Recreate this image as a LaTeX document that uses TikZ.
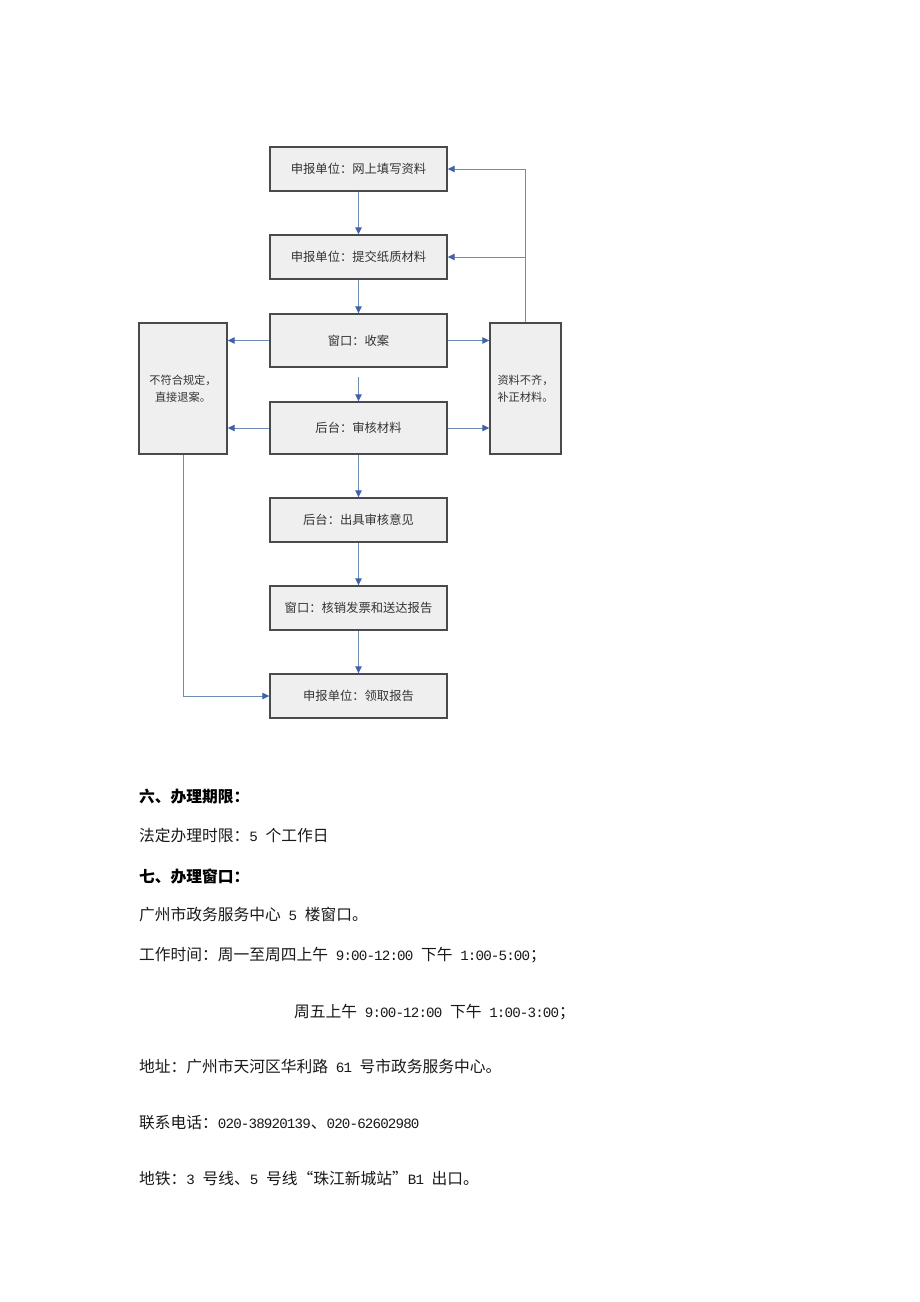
\documentclass[tikz,border=0pt]{standalone}
\usepackage{fontspec}
\setmainfont{Noto Sans CJK SC}
\newfontfamily\latinmono[LetterSpace=-6]{Liberation Mono}
\newcommand{\asc}[1]{{\latinmono\fontsize{14.2}{16}\selectfont #1}}
\usetikzlibrary{arrows.meta,calc}
\definecolor{boxfill}{HTML}{EFEFEF}
\definecolor{boxdraw}{HTML}{4A4A4A}
\definecolor{linecol}{HTML}{6F8CB8}
\definecolor{tipcol}{HTML}{3F62A8}
\definecolor{txtcol}{HTML}{333333}
\tikzset{
  mainbox/.style={draw=boxdraw, line width=1.4pt, fill=boxfill, minimum width=177pt, minimum height=44pt, inner sep=0pt, font=\fontsize{12.3}{14}\selectfont, text=txtcol},
  sidebox/.style={draw=boxdraw, line width=1.4pt, fill=boxfill, minimum height=131pt, inner sep=0pt, font=\fontsize{11.2}{17}\selectfont, text=txtcol, align=center},
  conn/.style={draw=linecol, line width=1pt, -{Triangle[length=7pt,width=6.5pt,color=tipcol]}},
  bodytext/.style={anchor=west, inner sep=0pt, font=\fontsize{15.75}{18}\selectfont, text=black!90},
  headtext/.style={anchor=west, inner sep=0pt, font=\fontsize{15.75}{18}\selectfont\bfseries, text=black}
}
\begin{document}
\begin{tikzpicture}[x=1pt,y=-1pt]
\useasboundingbox (0,0) rectangle (920,1302);
\fill[white] (0,0) rectangle (920,1302);
% main boxes
\node[mainbox] (b1) at (358.5,169) {申报单位：网上填写资料};
\node[mainbox] (b2) at (358.5,257) {申报单位：提交纸质材料};
\node[mainbox, minimum height=53pt] (b3) at (358.5,340.5) {窗口：收案};
\node[mainbox, minimum height=52pt] (b4) at (358.5,428) {后台：审核材料};
\node[mainbox] (b5) at (358.5,520) {后台：出具审核意见};
\node[mainbox] (b6) at (358.5,608) {窗口：核销发票和送达报告};
\node[mainbox] (b7) at (358.5,696) {申报单位：领取报告};
% side boxes
\node[sidebox, minimum width=88pt] (L) at (183,388.5) {不符合规定，\\直接退案。};
\node[sidebox, minimum width=71pt] (R) at (525.5,388.5) {资料不齐，\\补正材料。};
% vertical flow
\draw[conn] (b1.south) -- (b2.north);
\draw[conn] (b2.south) -- (b3.north);
\draw[conn, shorten <=9pt] (b3.south) -- (b4.north);
\draw[conn] (b4.south) -- (b5.north);
\draw[conn] (b5.south) -- (b6.north);
\draw[conn] (b6.south) -- (b7.north);
% side arrows
\draw[conn] (b3.west) -- (b3.west -| L.east);
\draw[conn] (b3.east) -- (b3.east -| R.west);
\draw[conn] (b4.west) -- (b4.west -| L.east);
\draw[conn] (b4.east) -- (b4.east -| R.west);
% return loop
\draw[conn] (R.north) |- (b1.east);
\coordinate (rb2) at (R.north |- b2.east);
\draw[conn] (rb2) -- (b2.east);
% reject path
\draw[conn] (L.south) |- (b7.west);
% text below
\node[headtext] (t1) at (139,797) {六、办理期限：};
\node[bodytext] (t2) at (139,835) {法定办理时限：\asc{5 }个工作日};
\node[headtext] (t3) at (139,877) {七、办理窗口：};
\node[bodytext] (t4) at (139,915) {广州市政务服务中心\asc{ 5 }楼窗口。};
\node[bodytext] (t5) at (139,955) {工作时间：周一至周四上午\asc{ 9:00-12:00 }下午\asc{ 1:00-5:00}；};
\node[bodytext] (t6) at (294,1012) {周五上午\asc{ 9:00-12:00 }下午\asc{ 1:00-3:00}；};
\node[bodytext] (t7) at (139,1067) {地址：广州市天河区华利路\asc{ 61 }号市政务服务中心。};
\node[bodytext] (t8) at (139,1123) {联系电话：\asc{020-38920139}、\asc{020-62602980}};
\node[bodytext] (t9) at (139,1178) {地铁：\asc{3 }号线、\asc{5 }号线“珠江新城站”\asc{B1 }出口。};
\end{tikzpicture}
\end{document}
